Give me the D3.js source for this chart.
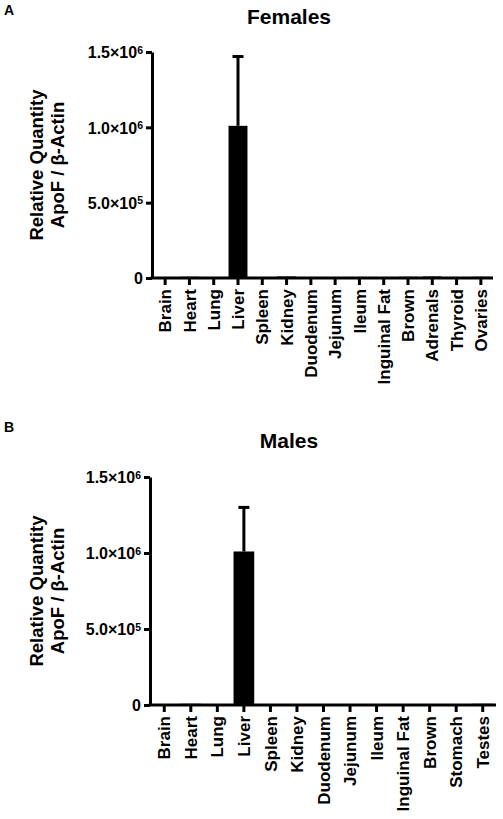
<!DOCTYPE html>
<html><head><meta charset="utf-8">
<script src="https://cdn.jsdelivr.net/npm/d3@7"></script>
<style>
body{margin:0;background:#fff;}
text{font-family:"Liberation Sans",Arial,sans-serif;font-weight:bold;fill:#000;}
</style></head>
<body><svg id="c" width="503" height="819"></svg>
<script>
const femaleTissues = ["Brain","Heart","Lung","Liver","Spleen","Kidney","Duodenum","Jejunum","Ileum","Inguinal Fat","Brown","Adrenals","Thyroid","Ovaries"];
const femaleValues = [1000, 8000, 1000, 1010000, 500, 10000, 3000, 2000, 2000, 3000, 8000, 10000, 1000, 8000];
const femaleErrors = [500, 2000, 500, 460000, 300, 3000, 1000, 800, 800, 1000, 2000, 3000, 500, 2000];
const maleTissues = ["Brain","Heart","Lung","Liver","Spleen","Kidney","Duodenum","Jejunum","Ileum","Inguinal Fat","Brown","Stomach","Testes"];
const maleValues = [500, 8000, 500, 1010000, 500, 500, 500, 500, 3000, 3000, 3000, 500, 8000];
const maleErrors = [300, 2000, 300, 290000, 300, 300, 300, 300, 1000, 1000, 1000, 300, 2000];
const yTicks = [0, 500000, 1000000, 1500000];
const yTickLabels = [["0",""],["5.0×10","5"],["1.0×10","6"],["1.5×10","6"]];

const svg = d3.select("#c");

function panel(o){
  const g = svg.append("g");
  g.append("text").attr("x",4).attr("y",o.letterY).attr("font-size",14).text(o.letter);
  g.append("text").attr("x",289).attr("y",o.titleY).attr("text-anchor","middle").attr("font-size",21).text(o.title);
  const y = d3.scaleLinear().domain([0,1500000]).range([o.y0,o.y1]);
  const x = d3.scaleBand().domain(o.cats).range(o.xr).paddingInner(0.22).paddingOuter(0.11);
  g.selectAll("rect.bar").data(o.vals).join("rect")
    .attr("x",(d,i)=>x(o.cats[i]))
    .attr("width",x.bandwidth())
    .attr("y",d=>y(d))
    .attr("height",d=>y(0)-y(d))
    .attr("fill","#000");
  const cw = 11;
  o.vals.forEach((v,i)=>{
    const cx = x(o.cats[i])+x.bandwidth()/2;
    const top = y(v+o.errs[i]);
    if (y(v)-top < 1.5) return;
    g.append("line").attr("x1",cx).attr("x2",cx).attr("y1",y(v)).attr("y2",top).attr("stroke","#000").attr("stroke-width",3);
    g.append("line").attr("x1",cx-cw/2).attr("x2",cx+cw/2).attr("y1",top).attr("y2",top).attr("stroke","#000").attr("stroke-width",3);
  });
  const ya = g.append("g").attr("transform",`translate(${o.xr[0]-1},0)`)
    .call(d3.axisLeft(y).tickValues(yTicks).tickSize(6).tickSizeOuter(0).tickFormat(""));
  ya.selectAll("path,line").attr("stroke","#000").attr("stroke-width",3);
  ya.selectAll(".tick").each(function(d,i){
    const t = d3.select(this).append("text").attr("x",-9).attr("dy","0.36em").attr("text-anchor","end").attr("font-size",16);
    t.append("tspan").text(yTickLabels[i][0]);
    if (yTickLabels[i][1]) t.append("tspan").attr("dy","-0.45em").attr("font-size",10.5).text(yTickLabels[i][1]);
  });
  const xa = g.append("g").attr("transform",`translate(0,${o.y0})`)
    .call(d3.axisBottom(x).tickSize(7).tickSizeOuter(0));
  xa.select(".domain").attr("d",`M${o.xr[0]-2.5},0H${o.xr[1]}`);
  xa.selectAll("path,line").attr("stroke","#000").attr("stroke-width",3);
  xa.selectAll(".tick text").attr("font-size",17).attr("font-family","Liberation Sans, Arial, sans-serif").attr("font-weight","bold")
    .attr("transform","rotate(-90)").attr("text-anchor","end").attr("x",-11).attr("y",0).attr("dy","0.36em");
  const cy = (o.y0+o.y1)/2;
  g.append("text").attr("transform",`translate(43,${cy}) rotate(-90)`).attr("text-anchor","middle").attr("font-size",18.5).text("Relative Quantity");
  g.append("text").attr("transform",`translate(64,${cy}) rotate(-90)`).attr("text-anchor","middle").attr("font-size",18.5).text("ApoF / β-Actin");
}

panel({letter:"A",letterY:15,title:"Females",titleY:24,cats:femaleTissues,vals:femaleValues,errs:femaleErrors,y0:278,y1:52,xr:[153,493]});
panel({letter:"B",letterY:432,title:"Males",titleY:448,cats:maleTissues,vals:maleValues,errs:maleErrors,y0:705,y1:477,xr:[151,496]});
</script></body></html>
